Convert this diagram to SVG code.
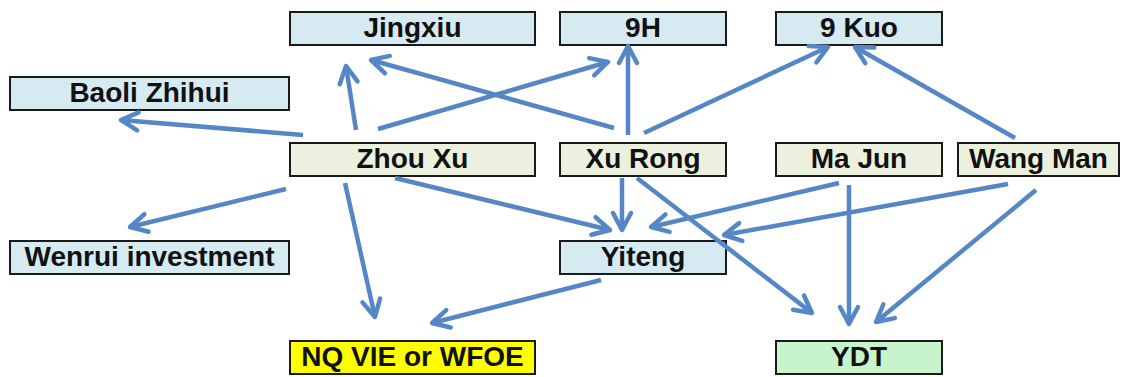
<svg xmlns="http://www.w3.org/2000/svg" width="1122" height="377" viewBox="0 0 1122 377">
<style>
.box rect{stroke:#1a1a1a;stroke-width:2}
.blue{fill:#d6eaf2}
.grn{fill:#ebf1de}
.yel{fill:#ffff00}
.ydt{fill:#c8f4cc}
text{font-family:"Liberation Sans",Arial,sans-serif;font-weight:bold;font-size:28px;fill:#111;text-anchor:middle}
#connectors line{stroke:#5587c6;stroke-width:4.5;marker-end:url(#ah)}
</style>
<defs>
<marker id="ah" markerUnits="userSpaceOnUse" viewBox="-22 -14 26 28" markerWidth="26" markerHeight="28" refX="0" refY="0" orient="auto">
<path d="M-17,-9 L0,0 L-17,9" fill="none" stroke="#5587c6" stroke-width="4.5" stroke-linecap="round" stroke-linejoin="round"/>
</marker>
</defs>
<rect width="1122" height="377" fill="#ffffff"/>
<g id="jingxiu" class="box"><rect class="blue" x="290" y="12" width="245" height="33"/><text x="412.5" y="37">Jingxiu</text></g>
<g id="n9h" class="box"><rect class="blue" x="560" y="12" width="166" height="33"/><text x="643" y="37">9H</text></g>
<g id="n9kuo" class="box"><rect class="blue" x="776" y="12" width="166" height="33"/><text x="859" y="37">9 Kuo</text></g>
<g id="baoli" class="box"><rect class="blue" x="10" y="77" width="279" height="33"/><text x="149.5" y="102">Baoli Zhihui</text></g>
<g id="zhouxu" class="box"><rect class="grn" x="290" y="143" width="245" height="33"/><text x="412.5" y="168">Zhou Xu</text></g>
<g id="xurong" class="box"><rect class="grn" x="560" y="143" width="166" height="33"/><text x="643" y="168">Xu Rong</text></g>
<g id="majun" class="box"><rect class="grn" x="776" y="143" width="166" height="33"/><text x="859" y="168">Ma Jun</text></g>
<g id="wangman" class="box"><rect class="grn" x="958" y="143" width="161" height="33"/><text x="1038.5" y="168">Wang Man</text></g>
<g id="wenrui" class="box"><rect class="blue" x="10" y="241" width="279" height="33"/><text x="149.5" y="266">Wenrui investment</text></g>
<g id="yiteng" class="box"><rect class="blue" x="560" y="241" width="166" height="33"/><text x="643" y="266">Yiteng</text></g>
<g id="nqvie" class="box"><rect class="yel" x="290" y="341" width="245" height="33"/><text x="412.5" y="366">NQ VIE or WFOE</text></g>
<g id="ydt" class="box"><rect class="ydt" x="776" y="341" width="166" height="33"/><text x="859" y="366">YDT</text></g>
<g id="connectors">
<line x1="303" y1="135" x2="121" y2="120"/>
<line x1="356" y1="130" x2="346" y2="66"/>
<line x1="378" y1="129" x2="608" y2="62"/>
<line x1="614" y1="128" x2="371" y2="60"/>
<line x1="628" y1="135" x2="628" y2="46"/>
<line x1="644" y1="133" x2="828" y2="47"/>
<line x1="1015" y1="138" x2="855" y2="47"/>
<line x1="286" y1="189" x2="130" y2="227"/>
<line x1="345" y1="183" x2="375" y2="317"/>
<line x1="601" y1="280" x2="432" y2="323"/>
<line x1="395" y1="178" x2="610" y2="230"/>
<line x1="622" y1="178" x2="622" y2="230"/>
<line x1="637" y1="178" x2="812" y2="313"/>
<line x1="839" y1="183" x2="651" y2="227"/>
<line x1="849" y1="185" x2="849" y2="324"/>
<line x1="1008" y1="184" x2="724" y2="235"/>
<line x1="1036" y1="190" x2="876" y2="322"/>
</g>
</svg>
